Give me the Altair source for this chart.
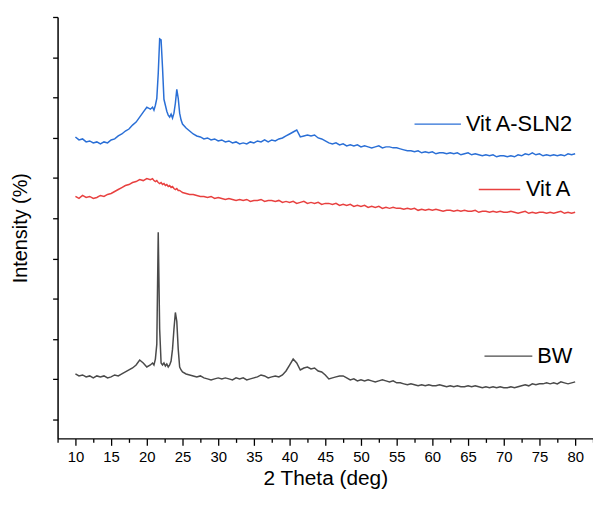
import altair as alt
import pandas as pd

# sample positions (2 Theta, deg)
xa = [round(10.0 + 0.5 * i, 1) for i in range(22)]      # 10.0 .. 20.5
xb = [round(20.8 + 0.2 * i, 1) for i in range(22)]      # 20.8 .. 25.0
xc = [round(25.5 + 0.5 * i, 1) for i in range(110)]     # 25.5 .. 80.0
theta = xa + xb + xc

# intensities (arbitrary units, offset stacked as in the figure)
sln2 = [304, 301, 302, 299, 300, 298, 299, 297, 299, 298, 301, 302, 305, 307, 310, 312, 316, 319, 324, 329, 334, 332,
        334, 331, 336, 343, 368, 403, 402, 374, 342, 336, 330, 326, 324, 327, 323, 328, 338, 352, 343, 328, 321, 317,
        313, 310, 307, 305, 304, 302, 303, 301, 302, 300,
        301, 299, 300, 298, 299, 297, 298, 297, 299, 298,
        300, 299, 301, 299, 301, 300, 302, 303, 305, 307,
        309, 311, 304, 305, 306, 305, 306, 303, 302, 300,
        298, 297, 298, 296, 297, 295, 296, 295, 296, 294,
        295, 294, 293, 294, 295, 293, 294, 294, 293, 293,
        292, 291, 290, 290, 289, 290, 288, 289, 288, 289,
        287, 288, 288, 287, 288, 287, 288, 286, 287, 288,
        286, 287, 286, 285, 286, 285, 286, 284, 285, 285,
        284, 285, 284, 286, 285, 287, 286, 288, 286, 287,
        285, 286, 285, 286, 285, 286, 285, 287, 286, 287]

vita = [244, 242, 245, 243, 244, 242, 243, 245, 244, 246, 247, 249, 251, 253, 255, 256, 258, 259, 261, 260, 262, 261,
        262, 260, 259, 260, 258, 257, 258, 256, 257, 255, 256, 254, 255, 253, 254, 252, 251, 252, 250, 250, 249, 248,
        247, 246, 246, 245, 244, 244, 243, 244, 242, 243,
        242, 241, 242, 241, 240, 241, 240, 241, 239, 240,
        240, 241, 239, 240, 240, 239, 240, 238, 239, 238,
        239, 237, 238, 239, 237, 238, 237, 238, 236, 237,
        237, 236, 237, 235, 236, 235, 236, 234, 235, 234,
        235, 233, 234, 233, 234, 232, 233, 232, 233, 232,
        232, 231, 232, 231, 232, 230, 231, 230, 231, 230,
        231, 230, 229, 230, 230, 229, 230, 229, 230, 229,
        229, 230, 228, 229, 229, 228, 229, 228, 229, 228,
        228, 229, 228, 227, 228, 229, 227, 228, 227, 228,
        228, 227, 228, 227, 228, 229, 227, 228, 227, 228]

bw = [65, 63, 64, 62, 63, 61, 63, 62, 63, 61, 62, 64, 63, 65, 67, 69, 71, 74, 79, 76, 72, 74,
      76, 74, 80, 95, 208, 110, 76, 74, 76, 73, 75, 72, 74, 78, 90, 110, 127, 118, 90, 72, 69, 67,
      65, 64, 63, 62, 63, 61, 60, 59, 60, 61,
      60, 61, 60, 59, 61, 60, 61, 59, 60, 61,
      62, 64, 63, 61, 62, 63, 62, 64, 68, 74,
      80, 76, 69, 71, 72, 70, 71, 68, 67, 64,
      60, 61, 62, 63, 63, 61, 59, 60, 58, 59,
      58, 59, 58, 57, 58, 59, 58, 57, 58, 56,
      56, 55, 54, 55, 54, 53, 54, 53, 54, 53,
      53, 54, 53, 52, 53, 52, 53, 52, 52, 53,
      52, 53, 52, 51, 52, 51, 52, 51, 52, 51,
      51, 52, 51, 52, 53, 54, 53, 55, 54, 55,
      55, 56, 55, 56, 55, 57, 56, 55, 56, 57]

series_names = ["Vit A-SLN2", "Vit A", "BW"]
series_colors = ["#2a6fd6", "#e8403f", "#4a4a4a"]

# in-plot labels: segment start/end, level, text start
label_x1 = [57.5, 66.5, 67.3]
label_x2 = [64.0, 72.3, 74.0]
label_y = [317, 251, 83]
label_tx = [64.7, 73.1, 74.7]

major_ticks = [10, 15, 20, 25, 30, 35, 40, 45, 50, 55, 60, 65, 70, 75, 80]
minor_ticks = [7.5, 12.5, 17.5, 22.5, 27.5, 32.5, 37.5, 42.5, 47.5, 52.5, 57.5, 62.5, 67.5, 72.5, 77.5, 82.5]

assert len(theta) == len(sln2) == len(vita) == len(bw)

rows = []
for name, vals in zip(series_names, [sln2, vita, bw]):
    for t, v in zip(theta, vals):
        rows.append({"theta": t, "intensity": v, "series": name})
df = pd.DataFrame(rows)

lab = pd.DataFrame({"x1": label_x1, "x2": label_x2, "y": label_y, "tx": label_tx, "series": series_names})

FONT = "Liberation Sans"

xscale = alt.Scale(domain=[7.5, 82.5], nice=False, zero=False)
yscale = alt.Scale(domain=[0, 425], nice=False, zero=False)
cscale = alt.Scale(domain=series_names, range=series_colors)

yticks = [19 + 40.6 * i for i in range(11)]

x_axis = alt.Axis(
    values=major_ticks, tickSize=7, orient="bottom",
    grid=False, labelFontSize=15, labelFont=FONT, labelColor="black", labelPadding=4,
    title="2 Theta (deg)", titleFontSize=21, titleFont=FONT, titleFontWeight="normal",
    titleColor="black", titlePadding=4, labelFlush=False, labelOverlap=False,
)
x_minor = alt.Axis(
    values=minor_ticks, tickSize=4, orient="bottom", labels=False, domain=False,
    grid=False, title=None,
)
y_axis = alt.Axis(
    values=yticks, labels=False, tickSize=5, grid=False,
    title="Intensity  (%)", titleFontSize=20, titleFont=FONT, titleFontWeight="normal",
    titleColor="black", titlePadding=22,
)

lines = alt.Chart(df).mark_line(strokeWidth=1.5).encode(
    x=alt.X("theta:Q", scale=xscale, axis=x_axis),
    y=alt.Y("intensity:Q", scale=yscale, axis=y_axis),
    color=alt.Color("series:N", scale=cscale, legend=None),
    detail="series:N",
)

segs = alt.Chart(lab).mark_rule(strokeWidth=1.3).encode(
    x=alt.X("x1:Q", scale=xscale, axis=x_minor),
    x2="x2:Q",
    y=alt.Y("y:Q", scale=yscale, axis=y_axis),
    color=alt.Color("series:N", scale=cscale, legend=None),
)

texts = alt.Chart(lab).mark_text(align="left", baseline="middle", fontSize=22, font=FONT, color="black").encode(
    x=alt.X("tx:Q", scale=xscale, axis=x_minor),
    y=alt.Y("y:Q", scale=yscale, axis=y_axis),
    text="series:N",
)

chart = alt.layer(lines, alt.layer(segs, texts)).resolve_axis(x="independent").properties(
    width=540, height=425,
    autosize=alt.AutoSizeParams(type="none"),
    padding={"left": 50, "top": 7, "right": 0, "bottom": 50},
).configure_axis(
    domainColor="black", domainWidth=1.5, tickColor="black", tickWidth=1.3,
).configure_view(stroke=None)

chart.save("out.html", embed_options={"renderer": "svg", "actions": False})
